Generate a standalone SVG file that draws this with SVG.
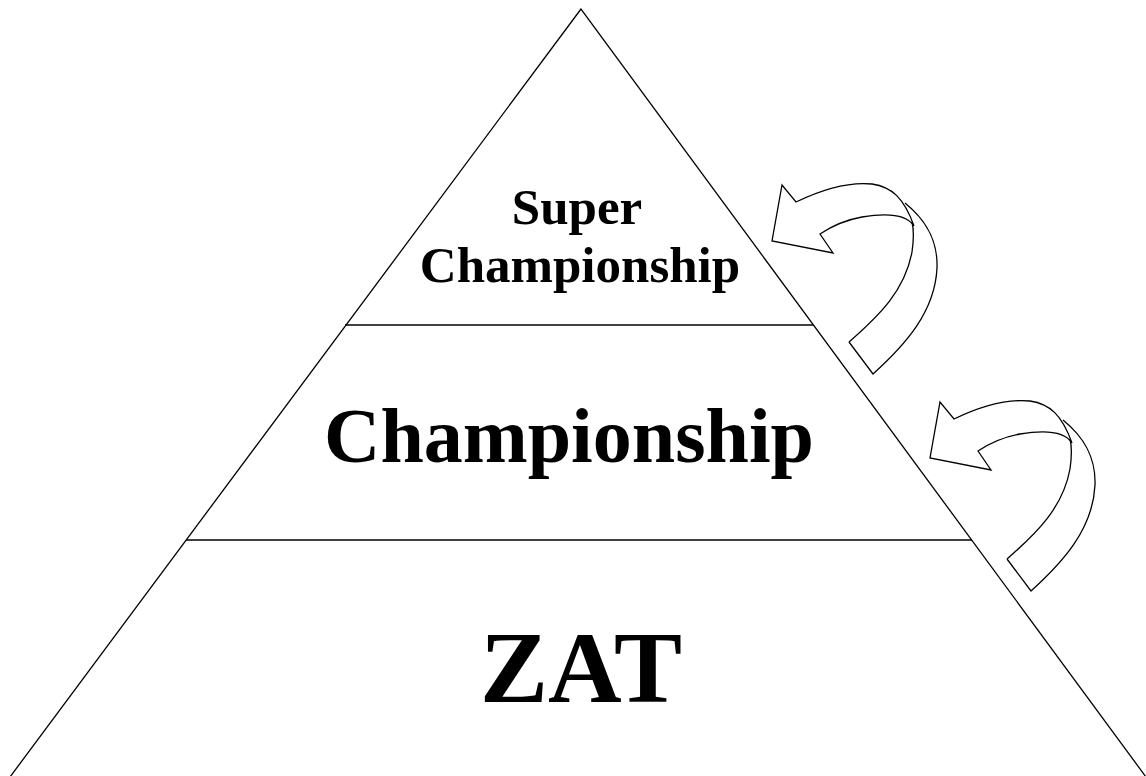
<svg xmlns="http://www.w3.org/2000/svg" xmlns:xlink="http://www.w3.org/1999/xlink" width="1146" height="776" viewBox="0 0 1146 776">
<style>
.ln{fill:none;stroke:#000;stroke-width:1.3}
.ar{fill:#fff;stroke:#000;stroke-width:1.3;stroke-linejoin:miter}
.t{font-family:"Liberation Serif","Times New Roman",serif;font-weight:bold;fill:#000;text-anchor:middle}
</style>
<defs>
<g id="curl">
<path class="ar" d="M849,342 L873,374 C905,345 935,312 937,268 C938,240 926,220 905,203"/>
<path class="ar" d="M849,342 C880,315 905,290 912,252 C914,238 914,230 912,222"/>
<path class="ar" d="M914,226 C905,212 880,214 862,217 C845,220 832,226 820,234 L833,253 L772,241 L782,185 L796,202 C825,188 852,182 872,184 C892,187 904,198 914,226 Z"/>
</g>
</defs>
<rect width="1146" height="776" fill="#fff"/>
<g id="pyramid">
<polygon class="ln" points="581,9 10,777 1146,777"/>
<line class="ln" x1="345" y1="325" x2="813" y2="325"/>
<line class="ln" x1="186" y1="540" x2="972" y2="540"/>
</g>
<g id="top">
<text class="t" x="577" y="224" font-size="51">Super</text>
<text class="t" x="580" y="282" font-size="51">Championship</text>
</g>
<g id="middle">
<text class="t" x="569" y="462" font-size="78">Championship</text>
</g>
<g id="bottom">
<text class="t" x="581" y="702" font-size="102">ZAT</text>
</g>
<g id="connectors">
<use xlink:href="#curl"/>
<use xlink:href="#curl" transform="translate(158,217)"/>
</g>
</svg>
